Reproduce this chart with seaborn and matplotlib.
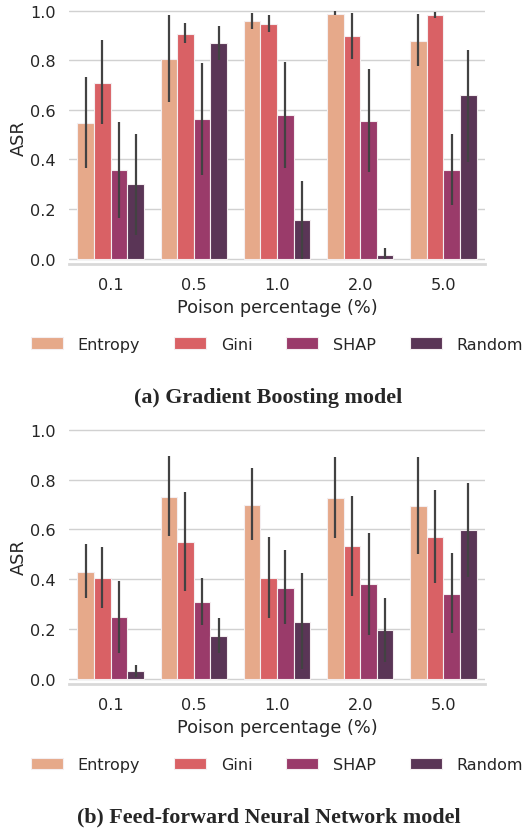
import numpy as np
import pandas as pd
import matplotlib
matplotlib.use("Agg")
import matplotlib.pyplot as plt
import seaborn as sns

percentages = ["0.1", "0.5", "1.0", "2.0", "5.0"]
methods = ["Entropy", "Gini", "SHAP", "Random"]
colors = ["#e6a98a", "#d96165", "#9a3b6a", "#5a3556"]

# (a) Gradient Boosting model: mean ASR and error-bar bounds per method
gb_mean = {
    "Entropy": [0.545, 0.805, 0.959, 0.988, 0.878],
    "Gini":    [0.710, 0.908, 0.948, 0.898, 0.983],
    "SHAP":    [0.357, 0.564, 0.578, 0.556, 0.357],
    "Random":  [0.299, 0.869, 0.156, 0.016, 0.662],
}
gb_low = {
    "Entropy": [0.366, 0.631, 0.926, 0.981, 0.777],
    "Gini":    [0.541, 0.869, 0.916, 0.806, 0.972],
    "SHAP":    [0.164, 0.338, 0.365, 0.349, 0.218],
    "Random":  [0.096, 0.802, 0.000, 0.000, 0.388],
}
gb_high = {
    "Entropy": [0.731, 0.981, 0.992, 1.000, 0.985],
    "Gini":    [0.881, 0.949, 0.981, 0.992, 0.996],
    "SHAP":    [0.552, 0.791, 0.794, 0.766, 0.503],
    "Random":  [0.504, 0.940, 0.314, 0.043, 0.842],
}

# (b) Feed-forward Neural Network model
nn_mean = {
    "Entropy": [0.430, 0.731, 0.698, 0.726, 0.694],
    "Gini":    [0.404, 0.548, 0.404, 0.531, 0.568],
    "SHAP":    [0.246, 0.309, 0.364, 0.378, 0.341],
    "Random":  [0.031, 0.172, 0.229, 0.195, 0.598],
}
nn_low = {
    "Entropy": [0.325, 0.574, 0.555, 0.564, 0.501],
    "Gini":    [0.283, 0.352, 0.242, 0.330, 0.382],
    "SHAP":    [0.102, 0.217, 0.219, 0.174, 0.183],
    "Random":  [0.008, 0.104, 0.037, 0.067, 0.410],
}
nn_high = {
    "Entropy": [0.540, 0.893, 0.846, 0.892, 0.889],
    "Gini":    [0.528, 0.750, 0.568, 0.735, 0.758],
    "SHAP":    [0.394, 0.405, 0.515, 0.586, 0.503],
    "Random":  [0.053, 0.243, 0.424, 0.325, 0.787],
}

captions = ["(a) Gradient Boosting model", "(b) Feed-forward Neural Network model"]

sns.set_theme(style="whitegrid")
plt.rcParams.update({
    "font.family": ["DejaVu Sans"],
    "xtick.labelsize": 11.6,
    "ytick.labelsize": 11.6,
    "axes.labelsize": 12.8,
    "legend.fontsize": 11.5,
    "axes.edgecolor": ".8",
    "grid.color": ".82",
})

fig = plt.figure(figsize=(5.31, 8.29), dpi=100)
W, H = 531, 829
ax_specs = [(69, 11, 485, 265), (69, 430, 485, 685)]  # left, top(1.0), right, bottom (px)
caption_y = [398, 817]


def long_frame(mean):
    rows = []
    for m in methods:
        for p, v in zip(percentages, mean[m]):
            rows.append({"Poison percentage (%)": p, "method": m, "ASR": v})
    return pd.DataFrame(rows)


for k, (mean, low, high) in enumerate([(gb_mean, gb_low, gb_high), (nn_mean, nn_low, nn_high)]):
    l, t, r, b = ax_specs[k]
    ax = fig.add_axes([l / W, (H - b) / H, (r - l) / W, (b - t) / H])
    df = long_frame(mean)
    sns.barplot(data=df, x="Poison percentage (%)", y="ASR", hue="method",
                hue_order=methods, order=percentages, palette=colors,
                saturation=1, errorbar=None, ax=ax, linewidth=0.8, edgecolor="#f4eef0")
    for m, cont in zip(methods, ax.containers):
        for j, patch in enumerate(cont.patches):
            xc = patch.get_x() + patch.get_width() / 2
            ax.plot([xc, xc], [low[m][j], high[m][j]], color=".26", lw=1.6,
                    solid_capstyle="butt", zorder=5)
    ax.set_xlim(-0.5, len(percentages) - 0.5)
    ax.set_ylim(-0.022, 1.003)
    ax.set_yticks([0.0, 0.2, 0.4, 0.6, 0.8, 1.0])
    ax.set_yticklabels(["0.0", "0.2", "0.4", "0.6", "0.8", "1.0"])
    ax.set_ylabel("ASR", labelpad=2)
    ax.grid(axis="x", visible=False)
    sns.despine(ax=ax, left=True)
    ax.spines["bottom"].set_linewidth(2)
    ax.spines["bottom"].set_color(".85")
    sns.move_legend(ax, "center", bbox_to_anchor=(0.5, -0.315), ncol=4, title=None,
                    frameon=False, handlelength=2.0, handleheight=0.7,
                    columnspacing=2.1, handletextpad=0.95)
    fig.text(268.5 / W, 1 - caption_y[k] / H, captions[k], ha="center", va="center",
             family="Liberation Serif", fontweight="bold", fontsize=15.8)

fig.savefig("out.png", dpi=100)
